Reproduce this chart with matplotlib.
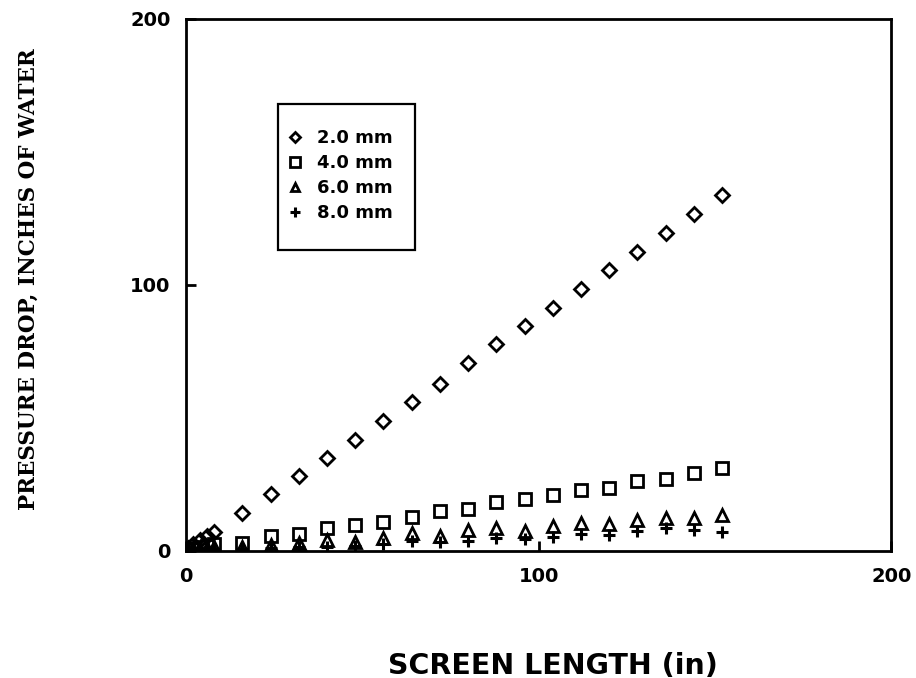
import matplotlib
matplotlib.use("Agg")
import matplotlib.pyplot as plt
from matplotlib.patches import Rectangle

# Data
x_small = [0.5, 2, 4, 6, 8]
x_main = [16, 24, 32, 40, 48, 56, 64, 72, 80, 88, 96, 104, 112, 120, 128, 136, 144, 152]
x_vals = x_small + x_main

p_2mm = [1.0, 2.5, 4.0, 5.5, 7.0,
         14.2, 21.1, 28.0, 34.8, 41.7, 48.8, 55.8, 62.5, 70.5, 77.6, 84.3, 91.4,
         98.5, 105.6, 112.4, 119.5, 126.5, 133.7]
p_4mm = [0.3, 0.8, 1.3, 1.8, 2.3,
         2.9, 5.6, 6.1, 8.3, 9.7, 10.9, 12.8, 15.0, 15.6, 18.1, 19.3, 20.8,
         22.7, 23.6, 26.1, 26.8, 29.1, 30.9]
p_6mm = [0.2, 0.4, 0.7, 1.0, 1.3,
         1.5, 2.2, 2.8, 3.8, 3.2, 4.9, 6.7, 5.4, 7.7, 8.3, 7.5, 9.3,
         10.5, 9.8, 11.6, 12.2, 12.1, 13.3]
p_8mm = [0.0, 0.1, 0.2, 0.3, 0.4,
         0.5, 0.8, 1.2, 1.5, 1.8, 2.4, 3.6, 3.2, 3.4, 4.7, 4.4, 5.0,
         6.1, 6.0, 7.2, 8.4, 7.6, 6.9]

labels = ["2.0 mm", "4.0 mm", "6.0 mm", "8.0 mm"]

fig = plt.figure(figsize=(9.16, 6.78), dpi=100)
ax = fig.add_axes([0.203, 0.188, 0.770, 0.784])

mk = dict(linestyle="none", color="black", markerfacecolor="none")
ax.plot(x_vals, p_2mm, marker="D", markersize=7, markeredgewidth=2.0, label=labels[0], **mk)
ax.plot(x_vals, p_4mm, marker="s", markersize=9, markeredgewidth=2.0, label=labels[1], **mk)
ax.plot(x_vals, p_6mm, marker="^", markersize=8, markeredgewidth=2.0, label=labels[2], **mk)
ax.plot(x_vals, p_8mm, marker="+", markersize=9, markeredgewidth=2.2, label=labels[3],
        linestyle="none", color="black")

ax.set_xlim(0, 200)
ax.set_ylim(0, 200)
ax.set_xticks([0, 100, 200])
ax.set_yticks([0, 100, 200])
ax.set_xticklabels(["0", "100", "200"], fontsize=14, fontweight="bold")
ax.set_yticklabels(["0", "100", "200"], fontsize=14, fontweight="bold")
ax.tick_params(axis="both", direction="in", length=7, width=2, color="black")
ax.tick_params(axis="x", pad=12)
ax.tick_params(axis="y", pad=11)

for s in ax.spines.values():
    s.set_linewidth(2.0)
    s.set_color("black")

ax.set_xlabel("SCREEN LENGTH (in)", fontsize=20.5, fontweight="bold")
ax.xaxis.set_label_coords(0.52, -0.19)
ax.set_ylabel("PRESSURE DROP, INCHES OF WATER", fontsize=15.5, fontweight="bold",
              family="DejaVu Serif")
ax.yaxis.set_label_coords(-0.207, 0.51)

# legend frame
ax.add_patch(Rectangle((0.1305, 0.565), 0.194, 0.275, transform=ax.transAxes,
                       fill=False, edgecolor="black", linewidth=1.6, zorder=5))
leg = ax.legend(loc="upper left", bbox_to_anchor=(0.142, 0.793), frameon=False,
                prop={"weight": "bold", "size": 13}, handletextpad=0.7,
                labelspacing=0.39, borderpad=0, handlelength=1.0, borderaxespad=0,
                markerscale=0.8)

fig.savefig("out.png", dpi=100)
